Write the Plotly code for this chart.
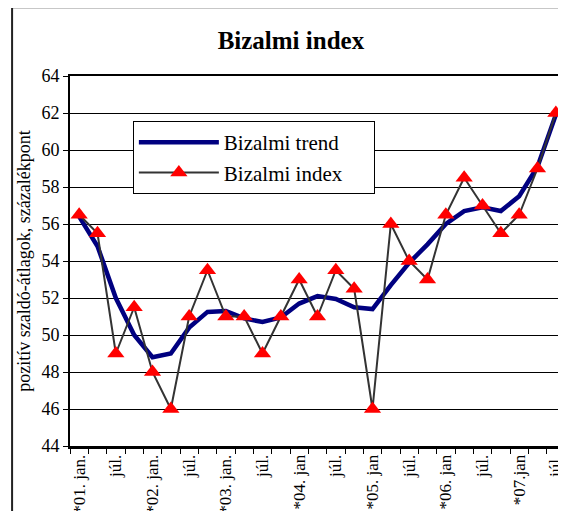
import plotly.graph_objects as go

categories = list(range(27))
tick_positions = list(range(0, 27, 2))
tick_labels = ["*01. jan.", "júl.", "*02. jan.", "júl.", "*03. jan.", "júl.",
               "*04. jan", "júl.", "*05. jan", "júl.", "*06. jan", "júl.",
               "*07.jan", "júl."]
boundaries = [i - 0.5 for i in range(28)]

index_values = [56.5, 55.5, 49, 51.5, 48, 46, 51, 53.5, 51, 51, 49, 51, 53, 51,
                53.5, 52.5, 46, 56, 54, 53, 56.5, 58.5, 57, 55.5, 56.5, 59, 62]
trend_values = [56.4, 54.8, 52.0, 50.0, 48.8, 49.0, 50.4, 51.25, 51.3, 50.9, 50.7,
                50.95, 51.7, 52.1, 51.95, 51.5, 51.4, 52.7, 53.9, 54.9, 56.0, 56.7,
                56.9, 56.7, 57.5, 59.1, 61.9]

FONT = "Liberation Serif"
PAD = "\u00a0" * 5

fig = go.Figure()
fig.add_trace(go.Scatter(x=categories, y=trend_values, mode="lines",
                         name="Bizalmi trend" + PAD, legendgroup="a",
                         line=dict(color="#000080", width=4.5)))
fig.add_trace(go.Scatter(x=categories, y=index_values, mode="lines+markers",
                         name="Bizalmi index" + PAD, legendgroup="b",
                         line=dict(color="#333333", width=2),
                         marker=dict(symbol="triangle-up", size=15, color="#ff0000")))

fig.update_layout(
    width=558, height=503,
    margin=dict(l=62, r=1, t=68, b=65),
    paper_bgcolor="white", plot_bgcolor="white",
    font=dict(family=FONT, color="black"),
    title=dict(text="<b>Bizalmi index</b>", x=0.507, xref="container",
               y=0.936, yref="container", xanchor="center", yanchor="middle",
               font=dict(size=25, family=FONT, color="black")),
    showlegend=True,
    legend=dict(x=0.127, y=0.878, xanchor="left", yanchor="top",
                bgcolor="white", bordercolor="black", borderwidth=1,
                font=dict(size=21, family=FONT, color="black"),
                itemwidth=80, traceorder="grouped", tracegroupgap=0),
    xaxis=dict(range=[-0.5, 26.5], tickmode="array", tickvals=tick_positions,
               ticktext=tick_labels, tickangle=-90, ticks="",
               tickfont=dict(size=17, family=FONT, color="black"),
               showgrid=False, zeroline=False, showline=True, linecolor="black",
               linewidth=2, mirror=True, automargin=False),
    xaxis2=dict(range=[-0.5, 26.5], overlaying="x", side="bottom", matches="x",
                tickmode="array", tickvals=boundaries, showticklabels=False,
                ticks="outside", ticklen=5, tickwidth=1, tickcolor="black",
                showgrid=False, zeroline=False, showline=True, linecolor="black",
                linewidth=3, automargin=False),
    yaxis=dict(range=[44, 64], tickmode="linear", tick0=44, dtick=2,
               ticks="outside", ticklen=5, tickwidth=1, tickcolor="black",
               tickfont=dict(size=18, family=FONT, color="black"),
               showgrid=True, gridcolor="black", gridwidth=1,
               zeroline=False, showline=True, linecolor="black", linewidth=2,
               automargin=False,
               title=dict(text="pozitív szaldó-átlagok, százalékpont",
                          font=dict(size=18, family=FONT, color="black"),
                          standoff=6)),
    yaxis2=dict(range=[44, 64], overlaying="y", side="right", matches="y",
                showticklabels=False,
                ticks="", showgrid=False, zeroline=False, showline=True,
                linecolor="#999999", linewidth=1, automargin=False),
    shapes=[dict(type="rect", xref="paper", yref="paper",
                 x0=-0.117, x1=1.2, y0=-0.5, y1=1.186,
                 line=dict(color="#222222", width=2), fillcolor="rgba(0,0,0,0)",
                 layer="below")],
)
# make the secondary axes render
fig.add_trace(go.Scatter(x=categories, y=index_values, xaxis="x2", yaxis="y2",
                         mode="none", showlegend=False, hoverinfo="skip"))

fig.write_html("out.html")
